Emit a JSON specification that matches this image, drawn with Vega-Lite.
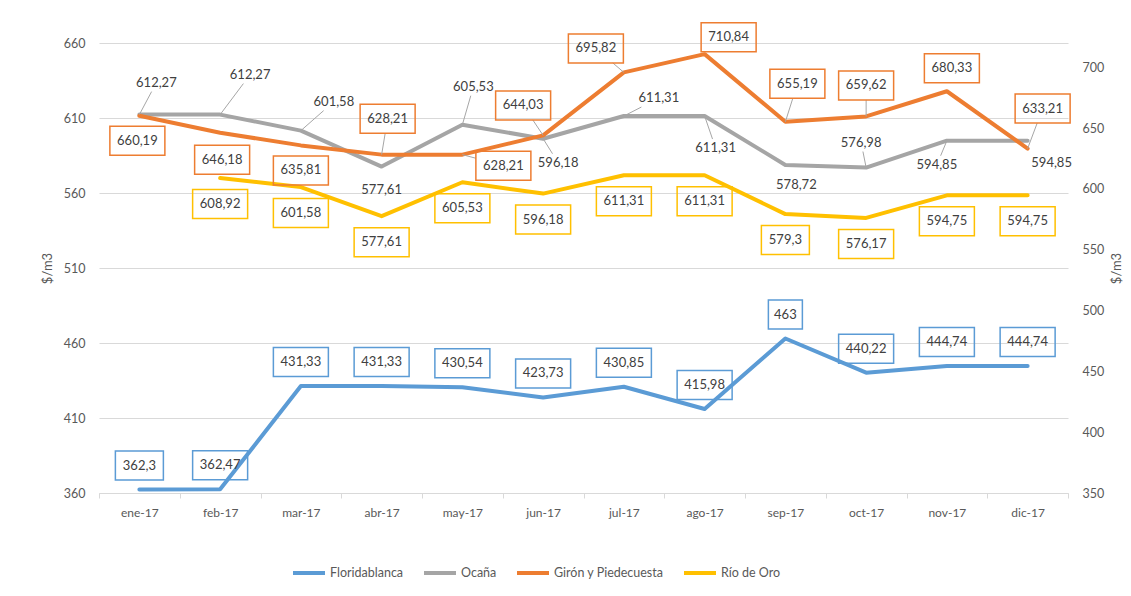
{
  "$schema": "https://vega.github.io/schema/vega-lite/v6.json",
  "width": 969,
  "height": 450,
  "autosize": "none",
  "padding": {"left": 99, "top": 43, "right": 63, "bottom": 103},
  "background": "white",
  "config": {
    "font": "Lato",
    "view": {"stroke": null},
    "axis": {"labelColor": "#595959", "labelFontSize": 12.5, "titleColor": "#595959", "titleFontSize": 13, "titleFontWeight": "normal"}
  },
  "data": {
    "values": [
      {"mes": "ene-17", "serie": "Floridablanca", "valor": 362.3},
      {"mes": "feb-17", "serie": "Floridablanca", "valor": 362.47},
      {"mes": "mar-17", "serie": "Floridablanca", "valor": 431.33},
      {"mes": "abr-17", "serie": "Floridablanca", "valor": 431.33},
      {"mes": "may-17", "serie": "Floridablanca", "valor": 430.54},
      {"mes": "jun-17", "serie": "Floridablanca", "valor": 423.73},
      {"mes": "jul-17", "serie": "Floridablanca", "valor": 430.85},
      {"mes": "ago-17", "serie": "Floridablanca", "valor": 415.98},
      {"mes": "sep-17", "serie": "Floridablanca", "valor": 463},
      {"mes": "oct-17", "serie": "Floridablanca", "valor": 440.22},
      {"mes": "nov-17", "serie": "Floridablanca", "valor": 444.74},
      {"mes": "dic-17", "serie": "Floridablanca", "valor": 444.74},
      {"mes": "ene-17", "serie": "Ocaña", "valor": 612.27},
      {"mes": "feb-17", "serie": "Ocaña", "valor": 612.27},
      {"mes": "mar-17", "serie": "Ocaña", "valor": 601.58},
      {"mes": "abr-17", "serie": "Ocaña", "valor": 577.61},
      {"mes": "may-17", "serie": "Ocaña", "valor": 605.53},
      {"mes": "jun-17", "serie": "Ocaña", "valor": 596.18},
      {"mes": "jul-17", "serie": "Ocaña", "valor": 611.31},
      {"mes": "ago-17", "serie": "Ocaña", "valor": 611.31},
      {"mes": "sep-17", "serie": "Ocaña", "valor": 578.72},
      {"mes": "oct-17", "serie": "Ocaña", "valor": 576.98},
      {"mes": "nov-17", "serie": "Ocaña", "valor": 594.85},
      {"mes": "dic-17", "serie": "Ocaña", "valor": 594.85},
      {"mes": "ene-17", "serie": "Girón y Piedecuesta", "valor": 660.19},
      {"mes": "feb-17", "serie": "Girón y Piedecuesta", "valor": 646.18},
      {"mes": "mar-17", "serie": "Girón y Piedecuesta", "valor": 635.81},
      {"mes": "abr-17", "serie": "Girón y Piedecuesta", "valor": 628.21},
      {"mes": "may-17", "serie": "Girón y Piedecuesta", "valor": 628.21},
      {"mes": "jun-17", "serie": "Girón y Piedecuesta", "valor": 644.03},
      {"mes": "jul-17", "serie": "Girón y Piedecuesta", "valor": 695.82},
      {"mes": "ago-17", "serie": "Girón y Piedecuesta", "valor": 710.84},
      {"mes": "sep-17", "serie": "Girón y Piedecuesta", "valor": 655.19},
      {"mes": "oct-17", "serie": "Girón y Piedecuesta", "valor": 659.62},
      {"mes": "nov-17", "serie": "Girón y Piedecuesta", "valor": 680.33},
      {"mes": "dic-17", "serie": "Girón y Piedecuesta", "valor": 633.21},
      {"mes": "feb-17", "serie": "Río de Oro", "valor": 608.92},
      {"mes": "mar-17", "serie": "Río de Oro", "valor": 601.58},
      {"mes": "abr-17", "serie": "Río de Oro", "valor": 577.61},
      {"mes": "may-17", "serie": "Río de Oro", "valor": 605.53},
      {"mes": "jun-17", "serie": "Río de Oro", "valor": 596.18},
      {"mes": "jul-17", "serie": "Río de Oro", "valor": 611.31},
      {"mes": "ago-17", "serie": "Río de Oro", "valor": 611.31},
      {"mes": "sep-17", "serie": "Río de Oro", "valor": 579.3},
      {"mes": "oct-17", "serie": "Río de Oro", "valor": 576.17},
      {"mes": "nov-17", "serie": "Río de Oro", "valor": 594.75},
      {"mes": "dic-17", "serie": "Río de Oro", "valor": 594.75}
    ]
  },
  "transform": [
    {"calculate": "replace(toString(datum.valor), '.', ',')", "as": "label"},
    {"calculate": "indexof(['ene-17','feb-17','mar-17','abr-17','may-17','jun-17','jul-17','ago-17','sep-17','oct-17','nov-17','dic-17'], datum.mes)", "as": "i"},
    {"calculate": "length(datum.label)*3.5+6.5", "as": "hw"},
    {"calculate": "'M' + (-datum.hw) + ',-14.5H' + datum.hw + 'V14.5H' + (-datum.hw) + 'Z'", "as": "box"}
  ],
  "encoding": {
    "x": {
      "field": "mes",
      "type": "ordinal",
      "sort": ["ene-17","feb-17","mar-17","abr-17","may-17","jun-17","jul-17","ago-17","sep-17","oct-17","nov-17","dic-17"],
      "scale": {"type": "band", "paddingInner": 0, "paddingOuter": 0},
      "axis": {"title": null, "labelAngle": 0, "domainColor": "#D9D9D9", "tickColor": "#D9D9D9", "tickSize": 5, "tickBand": "extent", "labelPadding": 9, "grid": false, "labelFontSize": 12}
    }
  },
  "layer": [
    {
      "transform": [{"filter": "datum.serie === 'Floridablanca' || datum.serie === 'Ocaña'"}],
      "mark": {"type": "line", "strokeWidth": 4, "strokeCap": "round", "strokeJoin": "round"},
      "encoding": {
        "y": {
          "field": "valor", "type": "quantitative",
          "scale": {"domain": [360, 660], "nice": false, "zero": false},
          "axis": {"orient": "left", "values": [360, 410, 460, 510, 560, 610, 660], "title": "$/m3", "grid": true, "gridColor": "#D9D9D9", "domain": false, "ticks": false, "labelPadding": 14, "titlePadding": 9}
        },
        "color": {
          "field": "serie", "type": "nominal",
          "scale": {"domain": ["Floridablanca", "Ocaña", "Girón y Piedecuesta", "Río de Oro"], "range": ["#5B9BD5", "#A5A5A5", "#ED7D31", "#FFC000"]},
          "legend": {"orient": "none", "legendX": 192, "legendY": 512, "direction": "horizontal", "title": null, "symbolType": "stroke", "symbolSize": 1024, "symbolStrokeWidth": 4, "labelFontSize": 12.5, "labelColor": "#595959", "columnPadding": 12, "labelOffset": 3}
        }
      }
    },
    {
      "transform": [{"filter": "datum.serie === 'Girón y Piedecuesta' || datum.serie === 'Río de Oro'"}],
      "mark": {"type": "line", "strokeWidth": 4, "strokeCap": "round", "strokeJoin": "round"},
      "encoding": {
        "y": {
          "field": "valor", "type": "quantitative",
          "scale": {"domain": [350, 720], "nice": false, "zero": false},
          "axis": {"orient": "right", "values": [350, 400, 450, 500, 550, 600, 650, 700], "title": "$/m3", "titleAngle": 270, "grid": false, "domain": false, "ticks": false, "labelPadding": 14, "titlePadding": 20}
        },
        "color": {
          "field": "serie", "type": "nominal",
          "scale": {"domain": ["Floridablanca", "Ocaña", "Girón y Piedecuesta", "Río de Oro"], "range": ["#5B9BD5", "#A5A5A5", "#ED7D31", "#FFC000"]},
          "legend": {"orient": "none", "legendX": 192, "legendY": 512, "direction": "horizontal", "title": null, "symbolType": "stroke", "symbolSize": 1024, "symbolStrokeWidth": 4, "labelFontSize": 12.5, "labelColor": "#595959", "columnPadding": 12, "labelOffset": 3}
        }
      }
    },
    {
      "encoding": {"y": {"field": "valor", "type": "quantitative", "scale": {"domain": [360, 660], "nice": false, "zero": false}, "axis": null}},
      "layer": [
        {
          "transform": [{"filter": "datum.serie === 'Floridablanca'"}],
          "mark": {"type": "point", "filled": false, "opacity": 1, "size": 4, "strokeWidth": 1.5, "color": "#5B9BD5", "yOffset": -24},
          "encoding": {"shape": {"field": "box", "type": "nominal", "scale": null, "legend": null}}
        },
        {
          "transform": [{"filter": "datum.serie === 'Floridablanca'"}],
          "mark": {"type": "text", "yOffset": -24, "fontSize": 13, "color": "#404040", "align": "center", "baseline": "middle"},
          "encoding": {"text": {"field": "label", "type": "nominal"}}
        },
        {
          "transform": [
            {"filter": "datum.serie === 'Ocaña'"},
            {"calculate": "[17,30,33,0,11,15,35,11,11,-5,-10,24][datum.i]", "as": "ox"},
            {"calculate": "[-32,-40,-29,23,-38,24,-18,32,20,-25,24,22][datum.i]", "as": "oy"}
          ],
          "layer": [
            {
              "transform": [
                {"filter": "indexof([0,1,2,4,5,6,7,9,10], datum.i) >= 0"},
                {"calculate": "max(0, 1 - min((length(datum.label)*3.6+2)/max(abs(datum.ox),0.001), 9/max(abs(datum.oy),0.001)))", "as": "f"},
                {"calculate": "'M0,0L' + (datum.ox*datum.f) + ',' + (datum.oy*datum.f)", "as": "lead"}
              ],
              "mark": {"type": "point", "filled": false, "opacity": 1, "size": 4, "strokeWidth": 1, "color": "#A6A6A6"},
              "encoding": {"shape": {"field": "lead", "type": "nominal", "scale": null, "legend": null}}
            },
            {
              "mark": {"type": "text", "xOffset": {"expr": "datum.ox"}, "yOffset": {"expr": "datum.oy"}, "fontSize": 13, "color": "#404040", "align": "center", "baseline": "middle"},
              "encoding": {"text": {"field": "label", "type": "nominal"}}
            }
          ]
        }
      ]
    },
    {
      "encoding": {"y": {"field": "valor", "type": "quantitative", "scale": {"domain": [350, 720], "nice": false, "zero": false}, "axis": null}},
      "layer": [
        {
          "transform": [
            {"filter": "datum.serie === 'Girón y Piedecuesta'"},
            {"calculate": "[-2,2,0,6,41,-20,-28,24,12,0,5,15][datum.i]", "as": "ox"},
            {"calculate": "[25,27,25,-36,11,-30,-24,-17,-38,-31,-23,-40][datum.i]", "as": "oy"}
          ],
          "layer": [
            {
              "transform": [
                {"filter": "indexof([3,4,5,6,8,9,11], datum.i) >= 0"},
                {"calculate": "max(0, 1 - min(datum.hw/max(abs(datum.ox),0.001), 14.5/max(abs(datum.oy),0.001)))", "as": "f"},
                {"calculate": "'M0,0L' + (datum.ox*datum.f) + ',' + (datum.oy*datum.f)", "as": "lead"}
              ],
              "mark": {"type": "point", "filled": false, "opacity": 1, "size": 4, "strokeWidth": 1, "color": "#A6A6A6"},
              "encoding": {"shape": {"field": "lead", "type": "nominal", "scale": null, "legend": null}}
            },
            {
              "mark": {"type": "point", "filled": false, "opacity": 1, "size": 4, "strokeWidth": 1.5, "color": "#ED7D31", "xOffset": {"expr": "datum.ox"}, "yOffset": {"expr": "datum.oy"}},
              "encoding": {"shape": {"field": "box", "type": "nominal", "scale": null, "legend": null}}
            },
            {
              "mark": {"type": "text", "xOffset": {"expr": "datum.ox"}, "yOffset": {"expr": "datum.oy"}, "fontSize": 13, "color": "#404040", "align": "center", "baseline": "middle"},
              "encoding": {"text": {"field": "label", "type": "nominal"}}
            }
          ]
        },
        {
          "transform": [{"filter": "datum.serie === 'Río de Oro'"}],
          "mark": {"type": "point", "filled": false, "opacity": 1, "size": 4, "strokeWidth": 1.5, "color": "#FFC000", "yOffset": 26},
          "encoding": {"shape": {"field": "box", "type": "nominal", "scale": null, "legend": null}}
        },
        {
          "transform": [{"filter": "datum.serie === 'Río de Oro'"}],
          "mark": {"type": "text", "yOffset": 26, "fontSize": 13, "color": "#404040", "align": "center", "baseline": "middle"},
          "encoding": {"text": {"field": "label", "type": "nominal"}}
        }
      ]
    }
  ],
  "resolve": {"scale": {"y": "independent"}}
}
